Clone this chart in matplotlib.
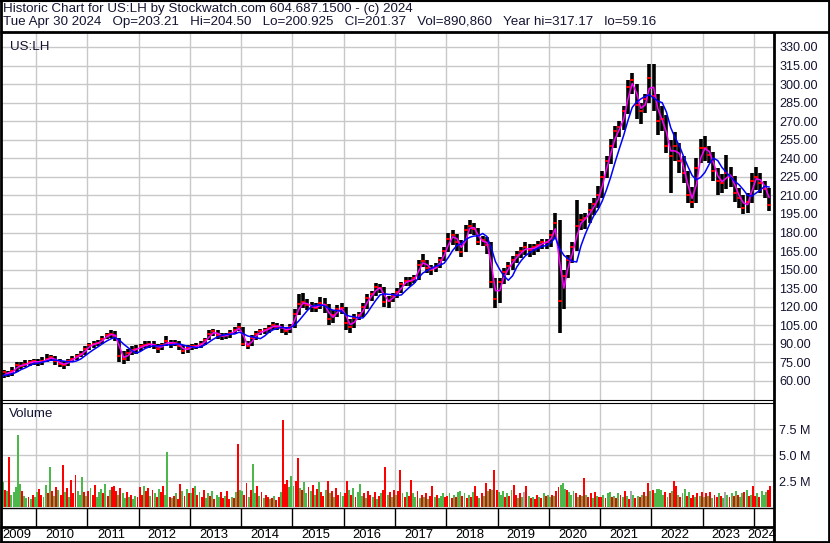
import numpy as np
import pandas as pd
import matplotlib
matplotlib.use('Agg')
import matplotlib.pyplot as plt
from matplotlib.lines import Line2D

plt.rcParams['font.family'] = ['Liberation Sans', 'DejaVu Sans']

# monthly price estimates, Apr 2009 .. Apr 2024
close = [62, 67, 66, 68, 73, 72, 74, 75, 76,                              # 2009
         75, 76, 78, 79, 76, 74, 73, 76, 78, 80, 82, 86,                  # 2010
         89, 90, 91, 94, 97, 98, 96, 80, 78, 83, 85, 86,                  # 2011
         88, 89, 90, 89, 86, 89, 92, 90, 91, 88, 84, 87,                  # 2012
         88, 88, 90, 93, 98, 100, 97, 96, 97, 99, 101, 104,               # 2013
         90, 88, 95, 98, 100, 101, 103, 105, 104, 103, 100, 104,          # 2014
         114, 122, 124, 121, 120, 119, 123, 121, 110, 113, 118, 119,      # 2015
         107, 104, 111, 113, 120, 127, 130, 136, 135, 124, 125, 129,      # 2016
         132, 138, 141, 141, 143, 154, 157, 151, 150, 152, 158, 165,      # 2017
         175, 178, 172, 164, 182, 185, 183, 172, 174, 170, 140, 126,      # 2018
         140, 148, 153, 158, 162, 165, 168, 166, 168, 170, 172, 172,      # 2019
         178, 188, 125, 145, 158, 168, 185, 190, 192, 198, 203, 210,      # 2020
         225, 238, 250, 262, 265, 278, 298, 303, 283, 278, 288, 305,      # 2021
         290, 270, 272, 250, 242, 250, 238, 228, 210, 205, 232, 248,      # 2022
         248, 243, 230, 222, 220, 228, 225, 212, 208, 200, 205, 222,      # 2023
         225, 220, 215, 202]                                              # 2024
high = [66, 69, 68, 71, 75, 75, 77, 77, 78,
        78, 79, 82, 81, 80, 78, 76, 78, 80, 82, 84, 88,
        91, 92, 93, 96, 99, 101, 100, 95, 84, 86, 88, 89,
        90, 92, 92, 92, 90, 91, 96, 93, 93, 92, 89, 89,
        90, 91, 92, 95, 101, 102, 101, 99, 99, 101, 104, 107,
        104, 92, 97, 100, 102, 103, 105, 108, 107, 106, 104, 106,
        118, 130, 131, 126, 124, 123, 128, 127, 122, 117, 121, 123,
        120, 110, 114, 116, 123, 130, 133, 139, 138, 136, 129, 131,
        135, 140, 144, 144, 146, 158, 163, 158, 154, 155, 160, 168,
        180, 182, 179, 174, 186, 190, 188, 184, 177, 176, 172, 143,
        143, 151, 156, 161, 165, 168, 172, 171, 171, 173, 175, 175,
        182, 196, 190, 150, 162, 172, 206, 195, 196, 204, 208, 218,
        230, 242, 256, 266, 270, 282, 303, 309, 300, 285, 292, 316,
        316, 292, 282, 275, 255, 261, 252, 242, 230, 217, 240, 256,
        258, 250, 245, 232, 227, 243, 233, 226, 216, 210, 212, 228,
        233, 228, 222, 216]
low = [59, 62, 63, 64, 67, 70, 71, 72, 73,
       72, 73, 75, 76, 73, 71, 70, 72, 75, 77, 79, 81,
       85, 87, 88, 90, 94, 95, 92, 75, 74, 76, 81, 82,
       84, 87, 87, 86, 83, 85, 88, 87, 88, 85, 82, 83,
       85, 86, 87, 89, 93, 96, 94, 93, 94, 95, 98, 100,
       88, 86, 88, 93, 97, 98, 99, 101, 101, 99, 97, 99,
       103, 113, 119, 117, 116, 116, 118, 115, 105, 107, 112, 114,
       101, 99, 103, 109, 112, 118, 125, 129, 131, 120, 119, 124,
       127, 131, 137, 137, 139, 142, 152, 147, 146, 148, 151, 157,
       164, 170, 165, 160, 164, 179, 178, 170, 169, 163, 135, 119,
       123, 138, 146, 150, 155, 159, 162, 160, 162, 164, 167, 167,
       168, 175, 99, 118, 143, 155, 165, 182, 183, 188, 194, 200,
       208, 224, 235, 248, 257, 263, 276, 292, 272, 268, 277, 285,
       278, 259, 262, 244, 212, 238, 228, 220, 204, 200, 204, 236,
       238, 236, 222, 210, 212, 215, 217, 205, 200, 195, 196, 204,
       214, 212, 208, 197]

# half-month volume (millions) and bar colour (r=down, g=up, x=flat)
volume = [2.0, 1.8, 2.4, 1.6, 1.5, 4.8, 1.2, 1.4, 1.9, 6.9, 2.2, 1.5, 1.1, 0.9, 1.0, 0.8, 1.2, 1.0,
          1.4, 1.7, 1.2, 1.0, 2.1, 1.3, 3.8, 1.5, 1.1, 1.9, 1.6, 1.2, 4.0, 1.4, 1.8, 1.0, 2.6, 1.3, 3.1, 1.5, 1.2, 2.9, 1.4, 1.1,
          1.5, 1.8, 1.2, 2.1, 1.0, 1.4, 1.7, 1.3, 2.2, 1.1, 1.6, 1.9, 2.0, 1.5, 1.2, 1.8, 1.3, 0.9, 1.4, 1.0, 1.2, 0.8, 1.1, 1.0,
          1.9, 1.2, 2.0, 1.5, 1.8, 1.1, 1.6, 1.3, 1.0, 1.7, 1.4, 2.0, 1.2, 5.3, 1.0, 0.9, 1.1, 1.3, 0.8, 2.2, 1.5, 1.1, 1.7, 1.3,
          1.3, 1.8, 2.0, 1.2, 1.4, 1.0, 1.6, 0.9, 1.3, 1.1, 1.5, 0.8, 1.2, 1.0, 1.4, 0.9, 1.1, 1.5, 0.8, 1.0, 0.9, 1.4, 6.1, 1.6,
          1.5, 1.2, 2.3, 1.0, 1.6, 4.1, 1.3, 2.0, 1.1, 1.4, 0.9, 1.2, 1.0, 0.8, 0.9, 1.1, 0.7, 1.0, 1.4, 8.4, 2.2, 2.6, 1.9, 3.0,
          2.0, 2.5, 4.7, 1.8, 1.6, 2.4, 1.3, 1.9, 1.5, 2.1, 1.2, 1.7, 2.4, 1.4, 1.1, 1.6, 2.5, 1.3, 1.5, 1.0, 1.8, 1.2, 1.4, 1.1,
          1.3, 2.5, 1.6, 1.2, 1.8, 1.0, 1.4, 2.2, 1.1, 1.3, 0.9, 1.5, 1.2, 1.0, 1.4, 0.8, 1.1, 1.3, 1.6, 3.8, 1.2, 1.4, 1.0, 1.6,
          1.2, 1.5, 3.6, 1.3, 1.0, 1.4, 1.1, 2.6, 1.3, 1.0, 1.5, 0.9, 1.2, 1.0, 1.3, 0.8, 1.1, 2.0, 1.0, 1.2, 0.9, 1.1, 1.3, 1.0,
          1.1, 1.3, 0.9, 1.2, 1.0, 1.4, 1.5, 1.1, 1.3, 0.9, 1.2, 1.0, 1.4, 2.0, 1.1, 0.9, 1.3, 1.1, 2.3, 1.5, 1.7, 1.6, 3.6, 1.6,
          1.4, 1.2, 1.5, 1.0, 1.3, 1.1, 1.6, 2.1, 1.2, 0.9, 1.3, 1.0, 1.4, 2.0, 1.1, 0.9, 1.0, 0.8, 1.2, 1.0, 0.9, 1.3, 1.1, 1.2,
          1.0, 1.2, 1.1, 1.5, 1.9, 2.1, 2.3, 1.7, 1.6, 1.4, 1.2, 1.5, 1.3, 1.0, 1.2, 1.1, 2.8, 1.2, 1.0, 1.3, 0.9, 1.4, 1.1, 1.0,
          1.0, 1.2, 0.9, 1.3, 1.4, 1.0, 1.1, 0.9, 1.3, 1.2, 1.0, 1.5, 1.1, 0.8, 1.5, 1.2, 0.9, 1.1, 1.0, 1.2, 1.4, 1.1, 2.3, 1.5,
          1.6, 1.3, 1.7, 1.7, 1.6, 1.2, 1.4, 1.0, 1.3, 1.5, 2.5, 2.0, 1.2, 1.0, 1.3, 1.7, 1.1, 1.4, 0.9, 1.2, 1.0, 1.3, 1.1, 1.4,
          1.0, 1.3, 1.1, 1.4, 0.9, 1.2, 1.0, 1.3, 1.1, 0.9, 1.4, 1.2, 1.0, 1.3, 1.1, 1.5, 1.2, 1.0, 1.3, 1.4, 1.6, 1.1, 1.2, 2.0,
          1.1, 1.3, 1.0, 1.5, 1.2, 1.4, 1.6, 2.0]
vol_dir = ("rrgrgrgggggrggrgrg"
           "grrggrgrgrgrrgrgrrrgggrg"
           "rgrrgggrgrgrrrgrggrgrggr"
           "rrgrrgrgrgrrggrgrgrrgrgr"
           "grgrgrrggrgrggrrgrrgrgrg"
           "grrgrggrgrgrrgrgrrgrrrgg"
           "grrgrggrgrgrgrrgrgrgrrgg"
           "rrgrgrgggrgrrgrgrgrrgrgr"
           "grrgrgrrggrgrgrgrrgrgggr"
           "rgrgrggrgrgrgrrgrgrgrgrr"
           "gggrgrgrrgrgxrgrgrrgrgrg"
           "grgrrgggrgggrgrgrgrrgrgr"
           "rgrggrgrgrgrgrxgrgrgrgrg"
           "rgggggrgrgrrgrggrgrrgrgr"
           "grgrgrrgrgxgrgrgrggrgrgr"
           "rgrgggrr")

price_ticks = list(range(60, 331, 15))
vol_ticks = [2.5, 5.0, 7.5]
year_labels = list(range(2009, 2025))

header1 = "Historic Chart for US:LH by Stockwatch.com 604.687.1500 - (c) 2024"
header2 = ("Tue Apr 30 2024   Op=203.21   Hi=204.50   Lo=200.925   Cl=201.37   "
           "Vol=890,860   Year hi=317.17   lo=59.16")

# ---- time axis in decimal years
months = pd.period_range('2009-04', '2024-04', freq='M')
t = months.year + (months.month - 0.5) / 12
tv = np.repeat(months.year + (months.month - 1) / 12, 2) + np.tile([0.25, 0.75], len(months)) / 12

px = pd.Series(close, dtype=float)
ma_fast = px.rolling(2, min_periods=1).mean()
ma_slow = px.rolling(5, min_periods=1).mean()

W, H = 830, 543
fig = plt.figure(figsize=(W / 100, H / 100), dpi=100)
fig.patch.set_facecolor('white')


def box(x0, y0, x1, y1):
    return [x0 / W, 1 - y1 / H, (x1 - x0) / W, (y1 - y0) / H]


ppy = 51.29
xlim = (2010 - 34 / ppy, 2010 + 737 / ppy)
grid_c = '#c8c8c8'
txt_c = '#141432'
fs = 9.6

ax1 = fig.add_axes(box(2, 33, 773, 400))
ax2 = fig.add_axes(box(2, 403, 773, 507))
for ax in (ax1, ax2):
    ax.set_xlim(*xlim)
    ax.set_xticks(range(2010, 2025))
    ax.tick_params(axis='x', length=0, labelbottom=False)
    ax.grid(True, color=grid_c, lw=1.0)
    ax.set_axisbelow(True)
    for s in ax.spines.values():
        s.set_visible(False)
    ax.yaxis.tick_right()
    ax.tick_params(axis='y', length=0, pad=4.5, labelsize=9.1, labelcolor=txt_c)

# price panel
ax1.set_ylim(44.6, 341.3)
ax1.set_yticks(price_ticks)
ax1.set_yticklabels([f'{v:.2f}' for v in price_ticks])
ax1.vlines(t, low, high, color='black', lw=2.6)
ax1.plot(t, close, ls='none', marker='_', color='red', ms=2.6, mew=1.4)
ax1.plot(t, ma_fast, color='#ff00ff', lw=1.1)
ax1.plot(t, ma_slow, color='#0000ff', lw=1.1)
ax1.text(0.011, 0.978, 'US:LH', transform=ax1.transAxes, ha='left', va='top',
         fontsize=fs, color=txt_c)

# volume panel
cmap = {'r': '#ff0000', 'g': '#4cb84c', 'x': '#a8a8a8'}
ax2.set_ylim(0, 10.0)
ax2.set_yticks(vol_ticks)
ax2.set_yticklabels([f'{v:.1f} M' for v in vol_ticks])
ax2.bar(tv, volume, width=0.9 / 24, color=[cmap[c] for c in vol_dir], lw=0, align='center')
ax2.text(0.009, 0.95, 'Volume', transform=ax2.transAxes, ha='left', va='top',
         fontsize=fs, color=txt_c)

# year strip
ax3 = fig.add_axes(box(2, 508, 773, 541))
ax3.set_xlim(*xlim)
ax3.set_ylim(0, 1)
ax3.axis('off')
ax3.vlines(range(2010, 2025), 0.42, 1.0, color='black', lw=1.0)
for y in year_labels:
    a, b = max(y, xlim[0]), min(y + 1, xlim[1])
    ax3.text((a + b) / 2 - 0.04, 0.18, str(y), ha='center', va='center',
             fontsize=9.4, color='black', clip_on=False)

# header text
fig.text(3 / W, 1 - 9 / H, header1, ha='left', va='center', fontsize=fs, color=txt_c)
fig.text(3 / W, 1 - 22.5 / H, header2, ha='left', va='center', fontsize=fs, color=txt_c)


def line(x0, y0, x1, y1, lw=1.0):
    fig.add_artist(Line2D([x0 / W, x1 / W], [1 - y0 / H, 1 - y1 / H], color='black',
                          lw=lw, transform=fig.transFigure, solid_capstyle='butt'))


line(0, 32, W, 32, 2.0)        # under header
line(774, 32, 774, H, 2.0)     # right axis separator
line(0, 400, 774, 400, 0.8)    # double line between panels
line(0, 402.5, 774, 402.5, 0.8)
line(0, 508, 774, 508, 1.0)
line(0, 527, 774, 527, 2.0)
# outer frame
line(1, 0, 1, H, 2.0)
line(W - 1, 0, W - 1, H, 2.0)
line(0, 1, W, 1, 1.5)
line(0, H - 1, W, H - 1, 2.0)

fig.savefig('out.png', dpi=100)
